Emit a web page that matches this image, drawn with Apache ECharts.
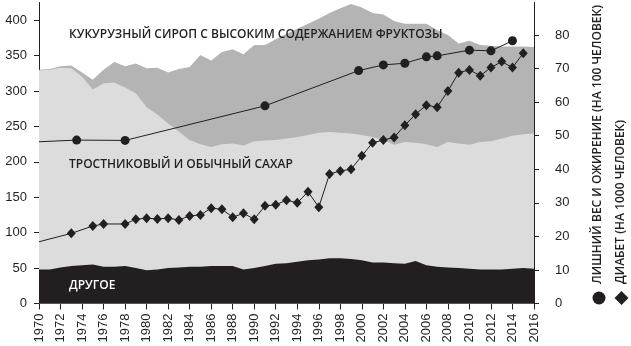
<!DOCTYPE html>
<html>
<head>
<meta charset="utf-8">
<script src="https://cdn.jsdelivr.net/npm/echarts@6/dist/echarts.min.js"></script>
<style>
html,body{margin:0;padding:0;background:#fff;}
#c{width:631px;height:346px;}
</style>
</head>
<body>
<div id="c"></div>
<script>
// ---- data ----
const years = [1970,1971,1972,1973,1974,1975,1976,1977,1978,1979,1980,1981,1982,1983,1984,1985,1986,1987,1988,1989,1990,1991,1992,1993,1994,1995,1996,1997,1998,1999,2000,2001,2002,2003,2004,2005,2006,2007,2008,2009,2010,2011,2012,2013,2014,2015,2016];
const otherSweeteners = [48,48,51,53,54,55,52,52,53,50, 47,48,50,51,52,52,53,53,53,48, 50,53,56,57,59,61,62,64,64,63, 61,58,58,57,56,60,54,52,51,50, 49,48,48,48,49,50,49];
const caneSugar = [281,282,282,279,266,247,259,260,252,247, 230,219,204,192,179,173,168,172,173,175, 179,177,175,176,176,177,179,178,177,177, 177,177,173,167,172,167,171,169,177,176, 175,180,181,185,188,189,191];
const hfcs = [1,1,2,4,6,14,19,29,30,42, 55,66,72,88,103,126,122,130,133,129, 136,135,142,148,153,157,161,168,176,183, 180,175,177,175,167,168,170,165,151,141, 147,137,135,130,126,124,122];

const obesityYears = [1970,1973.5,1978,1991,1999.7,2002,2004,2006,2007,2010,2012,2014];
const obesity = [48.2,48.7,48.6,58.9,69.4,71.1,71.6,73.5,73.8,75.5,75.3,78.3];

const diabetesYears = [1970,1973,1975,1976,1978,1979,1980,1981,1982,1983,1984,1985,1986,1987,1988,1989,1990,1991,1992,1993,1994,1995,1996,1997,1998,1999,2000,2001,2002,2003,2004,2005,2006,2007,2008,2009,2010,2011,2012,2013,2014,2015];
const diabetes = [18.4,20.9,23.1,23.7,23.7,25.1,25.4,25.2,25.4,24.9,26.1,26.4,28.4,28.1,25.7,26.9,25.1,29.1,29.4,30.8,30.0,33.3,28.7,38.6,39.5,40.0,44.0,47.9,48.7,49.5,53.1,56.4,59.1,58.5,63.3,68.8,69.6,67.9,70.3,72.1,70.3,74.6];

const leftTicks = [0,50,100,150,200,250,300,350,400];
const rightTicks = [0,10,20,30,40,50,60,70,80];

const labelHFCS = 'КУКУРУЗНЫЙ СИРОП С ВЫСОКИМ СОДЕРЖАНИЕМ ФРУКТОЗЫ';
const labelSugar = 'ТРОСТНИКОВЫЙ И ОБЫЧНЫЙ САХАР';
const labelOther = 'ДРУГОЕ';
const legendObesity = 'ЛИШНИЙ ВЕС И ОЖИРЕНИЕ (НА 100 ЧЕЛОВЕК)';
const legendDiabetes = 'ДИАБЕТ (НА 1000 ЧЕЛОВЕК)';

// ---- chart ----
const INK = '#231f20';
const lineData = (xs, ys) => xs.map((x, i) => i === 0 ? {value: [x, ys[i]], symbol: 'none'} : [x, ys[i]]);
// cumulative layer tops (stack built from the component arrays)
const topOther = years.map((y, i) => [y, otherSweeteners[i]]);
const topSugar = years.map((y, i) => [y, otherSweeteners[i] + caneSugar[i]]);
const topAll = years.map((y, i) => [y, otherSweeteners[i] + caneSugar[i] + hfcs[i]]);

const chart = echarts.init(document.getElementById('c'), null, {renderer: 'canvas'});
const axisFont = {fontFamily: 'Liberation Sans', fontSize: 13, color: INK};
const annFont = 'Open Sans';

const area = (name, data, color, z) => ({
  type: 'line', name, data, symbol: 'none', silent: true,
  lineStyle: {width: 0, opacity: 0}, areaStyle: {color, opacity: 1, origin: 'start'}, z
});

chart.setOption({
  animation: false,
  grid: {left: 39, right: 97, top: 2.5, bottom: 42.5, containLabel: false},
  xAxis: {
    type: 'value', min: 1970, max: 2016, interval: 2,
    axisLine: {show: true, lineStyle: {color: INK, width: 1}},
    axisTick: {show: true, length: 6, lineStyle: {color: INK}},
    axisLabel: Object.assign({rotate: 90, margin: 10, formatter: v => String(v)}, axisFont),
    splitLine: {show: false}
  },
  yAxis: [
    {
      type: 'value', min: 0, max: 425, position: 'left',
      axisLine: {show: true, lineStyle: {color: INK, width: 1}},
      axisTick: {show: true, length: 5, lineStyle: {color: INK}, customValues: leftTicks},
      axisLabel: Object.assign({margin: 12, customValues: leftTicks}, axisFont),
      splitLine: {show: false}
    },
    {
      type: 'value', min: 0, max: 89.7, position: 'right',
      axisLine: {show: true, lineStyle: {color: INK, width: 1}},
      axisTick: {show: true, length: 5, lineStyle: {color: INK}, customValues: rightTicks},
      axisLabel: Object.assign({margin: 21, customValues: rightTicks}, axisFont),
      splitLine: {show: false}
    }
  ],
  series: [
    area('hfcs', topAll, '#b4b4b4', 1),
    area('sugar', topSugar, '#dcdcdc', 2),
    area('other', topOther, INK, 3),
    {type: 'line', name: 'obesity', yAxisIndex: 1, data: lineData(obesityYears, obesity),
     symbol: 'circle', symbolSize: 9, itemStyle: {color: INK}, lineStyle: {color: INK, width: 1}, z: 5},
    {type: 'line', name: 'diabetes', yAxisIndex: 1, data: lineData(diabetesYears, diabetes),
     symbol: 'diamond', symbolSize: [9, 10], itemStyle: {color: INK}, lineStyle: {color: INK, width: 1}, z: 5}
  ],
  graphic: [
    {type: 'text', left: 69, top: 29, z: 10, style: {text: labelHFCS, font: '600 12px "' + annFont + '"', fill: INK}},
    {type: 'text', left: 69, top: 159, z: 10, style: {text: labelSugar, font: '600 12px "' + annFont + '"', fill: INK}},
    {type: 'text', left: 69, top: 280, z: 10, style: {text: labelOther, font: '600 12px "' + annFont + '"', fill: '#ffffff'}},
    {type: 'text', x: 598, y: 284, rotation: Math.PI / 2, z: 10,
     style: {text: legendObesity, font: '600 12px "' + annFont + '"', fill: INK, align: 'left', verticalAlign: 'middle'}},
    {type: 'text', x: 621, y: 284, rotation: Math.PI / 2, z: 10,
     style: {text: legendDiabetes, font: '600 12px "' + annFont + '"', fill: INK, align: 'left', verticalAlign: 'middle'}},
    {type: 'circle', shape: {cx: 599, cy: 298, r: 6.5}, style: {fill: INK}, z: 10},
    {type: 'polygon', shape: {points: [[621.5, 291], [628.5, 298], [621.5, 305], [614.5, 298]]}, style: {fill: INK}, z: 10}
  ]
});
</script>
</body>
</html>
